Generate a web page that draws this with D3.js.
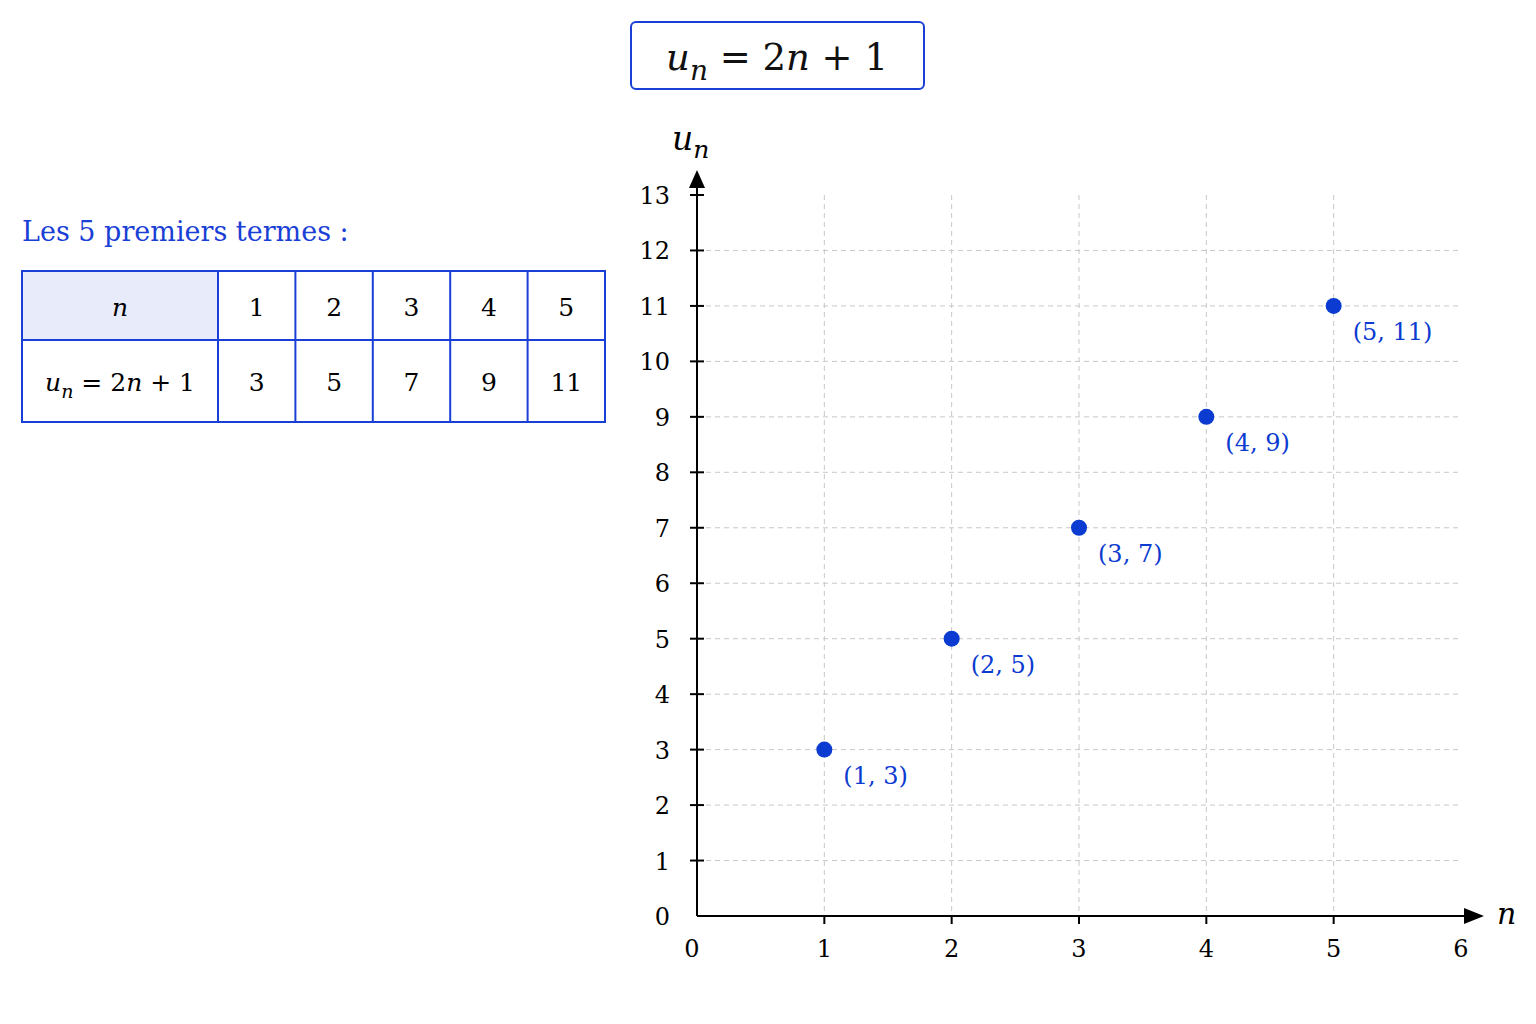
<!DOCTYPE html>
<html><head><meta charset="utf-8">
<script src="https://cdn.jsdelivr.net/npm/d3@7"></script>
<style>body{margin:0;background:#fff}</style>
</head><body>
<svg width="1536" height="1024"></svg>
<script>
var ns = [1, 2, 3, 4, 5];
var us = [3, 5, 7, 9, 11];
var xTicks = [0, 1, 2, 3, 4, 5, 6];
var yTicks = d3.range(0, 14);
var blue = "#1a3fd6", ptBlue = "#0b3bd0";
var serif = "'DejaVu Serif','Liberation Serif',serif";

var svg = d3.select("svg");
var x = d3.scaleLinear().domain([0, 6]).range([697, 1461]);
var y = d3.scaleLinear().domain([0, 13]).range([916, 195]);

// title box
svg.append("rect").attr("x", 631).attr("y", 22).attr("width", 293).attr("height", 67).attr("rx", 5)
  .attr("fill", "#fff").attr("stroke", blue).attr("stroke-width", 2);
var t = svg.append("text").attr("x", 777).attr("y", 70).attr("text-anchor", "middle")
  .style("font-family", serif).style("font-size", "37px").attr("fill", "#111");
t.append("tspan").attr("font-style", "italic").text("u");
t.append("tspan").attr("font-style", "italic").attr("dy", 10).style("font-size", "28px").text("n");
t.append("tspan").attr("dy", -10).text(" = 2");
t.append("tspan").attr("font-style", "italic").text("n");
t.append("tspan").text(" + 1");

// grid
var g = svg.append("g").attr("stroke", "#c8c8c8").attr("stroke-dasharray", "5,4").attr("stroke-width", 1);
g.selectAll(".v").data(ns).enter().append("line")
  .attr("x1", d => x(d)).attr("x2", d => x(d)).attr("y1", y(13)).attr("y2", y(0));
g.selectAll(".h").data(yTicks.filter(d => d > 0 && d < 13)).enter().append("line")
  .attr("x1", x(0)).attr("x2", x(6)).attr("y1", d => y(d)).attr("y2", d => y(d));

// axes
var ax = svg.append("g").attr("stroke", "#000").attr("stroke-width", 2);
ax.append("line").attr("x1", x(0)).attr("x2", 1470).attr("y1", y(0)).attr("y2", y(0));
ax.append("line").attr("x1", x(0)).attr("x2", x(0)).attr("y1", y(0)).attr("y2", 185);
svg.append("path").attr("d", "M1484," + y(0) + " L1464," + (y(0) - 8) + " L1464," + (y(0) + 8) + " Z").attr("fill", "#000");
svg.append("path").attr("d", "M" + x(0) + ",170 L" + (x(0) - 8) + ",188 L" + (x(0) + 8) + ",188 Z").attr("fill", "#000");
ax.selectAll(".xt").data(xTicks.filter(d => d > 0 && d < 6)).enter().append("line")
  .attr("x1", d => x(d)).attr("x2", d => x(d)).attr("y1", y(0)).attr("y2", y(0) + 8);
ax.selectAll(".yt").data(yTicks.filter(d => d > 0)).enter().append("line")
  .attr("x1", x(0) - 7).attr("x2", x(0) + 7).attr("y1", d => y(d)).attr("y2", d => y(d));

svg.selectAll(".xl").data(xTicks).enter().append("text")
  .attr("x", d => d === 0 ? x(0) - 5 : x(d)).attr("y", 957).attr("text-anchor", "middle")
  .style("font-family", serif).style("font-size", "24px").text(d => d);
svg.selectAll(".yl").data(yTicks).enter().append("text")
  .attr("x", 670).attr("y", d => y(d) + 9).attr("text-anchor", "end")
  .style("font-family", serif).style("font-size", "24px").text(d => d);

svg.append("text").attr("x", 1497).attr("y", 924).style("font-family", serif).style("font-size", "30px")
  .attr("font-style", "italic").text("n");
var yl = svg.append("text").attr("x", 672).attr("y", 150).style("font-family", serif).style("font-size", "33px").attr("font-style", "italic");
yl.append("tspan").text("u");
yl.append("tspan").attr("dy", 8).style("font-size", "25px").text("n");

// points
var pts = ns.map((n, i) => ({ n: n, u: us[i] }));
svg.selectAll(".pt").data(pts).enter().append("circle")
  .attr("cx", d => x(d.n)).attr("cy", d => y(d.u)).attr("r", 8).attr("fill", ptBlue);
svg.selectAll(".pl").data(pts).enter().append("text")
  .attr("x", d => x(d.n) + 19).attr("y", d => y(d.u) + 34)
  .style("font-family", serif).style("font-size", "24px").attr("fill", ptBlue)
  .text(d => "(" + d.n + ", " + d.u + ")");

// table
svg.append("text").attr("x", 22).attr("y", 241).style("font-family", serif).style("font-size", "27px")
  .attr("fill", blue).text("Les 5 premiers termes :");
var tx0 = 22, c0 = 196, cw = 77.4, r1 = 271, rh1 = 69, rh2 = 82;
svg.append("rect").attr("x", tx0).attr("y", r1).attr("width", c0).attr("height", rh1).attr("fill", "#e8ebfa");
var tb = svg.append("g").attr("stroke", blue).attr("stroke-width", 2).attr("fill", "none");
tb.append("rect").attr("x", tx0).attr("y", r1).attr("width", c0 + cw * 5).attr("height", rh1 + rh2);
tb.append("line").attr("x1", tx0).attr("x2", tx0 + c0 + cw * 5).attr("y1", r1 + rh1).attr("y2", r1 + rh1);
tb.selectAll(".cl").data(d3.range(5)).enter().append("line")
  .attr("x1", i => tx0 + c0 + cw * i).attr("x2", i => tx0 + c0 + cw * i).attr("y1", r1).attr("y2", r1 + rh1 + rh2);
svg.append("text").attr("x", tx0 + c0 / 2).attr("y", 316).attr("text-anchor", "middle")
  .style("font-family", serif).style("font-size", "25px").attr("font-style", "italic").text("n");
var rl = svg.append("text").attr("x", tx0 + c0 / 2).attr("y", 391).attr("text-anchor", "middle")
  .style("font-family", serif).style("font-size", "25px");
rl.append("tspan").attr("font-style", "italic").text("u");
rl.append("tspan").attr("font-style", "italic").attr("dy", 7).style("font-size", "19px").text("n");
rl.append("tspan").attr("dy", -7).text(" = 2");
rl.append("tspan").attr("font-style", "italic").text("n");
rl.append("tspan").text(" + 1");
svg.selectAll(".tn").data(ns).enter().append("text")
  .attr("x", (d, i) => tx0 + c0 + cw * (i + 0.5)).attr("y", 316).attr("text-anchor", "middle")
  .style("font-family", serif).style("font-size", "25px").text(d => d);
svg.selectAll(".tu").data(us).enter().append("text")
  .attr("x", (d, i) => tx0 + c0 + cw * (i + 0.5)).attr("y", 391).attr("text-anchor", "middle")
  .style("font-family", serif).style("font-size", "25px").text(d => d);
</script>
</body></html>
